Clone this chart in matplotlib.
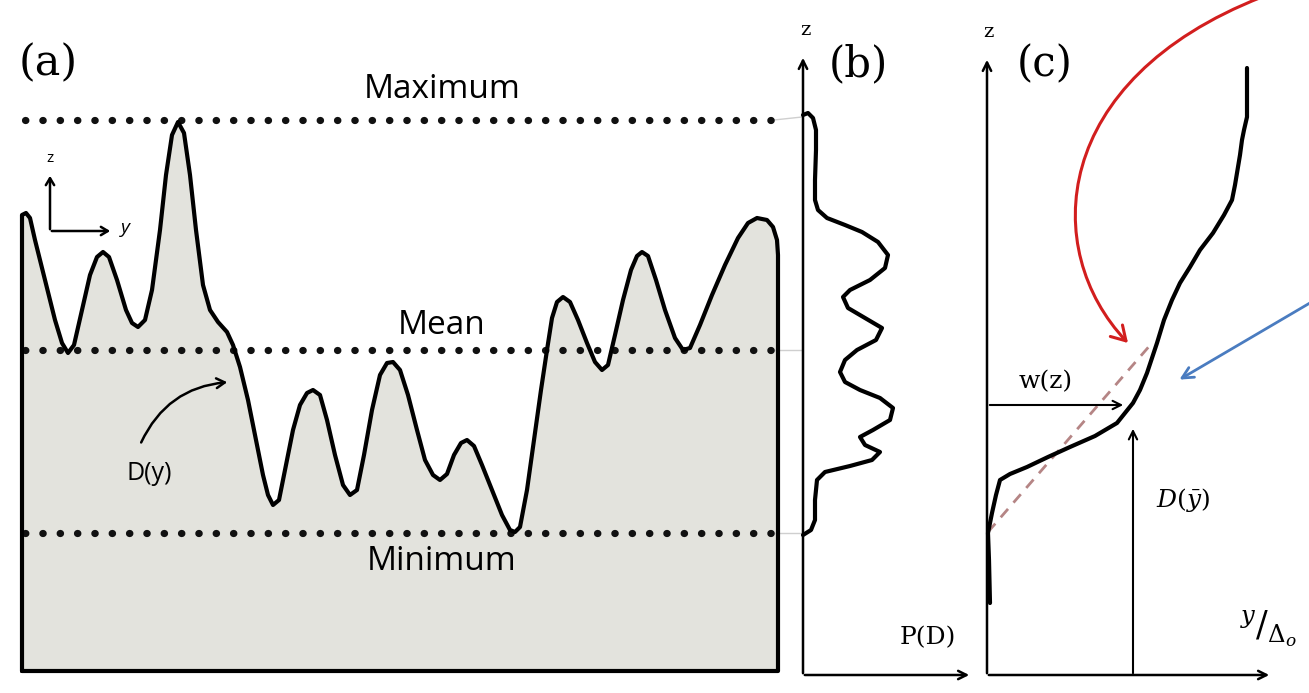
import matplotlib
matplotlib.use("Agg")
import matplotlib.pyplot as plt
from matplotlib.path import Path
from matplotlib.patches import FancyArrowPatch, Polygon

# ---------------- data (image pixel coordinates, y downward) ----------------
# panel (a): surface profile D(y)
profile_a_x = [22, 26, 30, 35, 45, 55, 62, 68, 74, 82, 90, 97, 103, 109, 117, 126, 132, 138, 145,
               152, 160, 166, 172, 178, 184, 190, 196, 203, 210, 218, 227, 233, 240, 248, 256, 263,
               268, 273, 279, 285, 293, 300, 307, 313, 320, 327, 335, 343, 350, 357, 364, 372, 380,
               387, 393, 400, 408, 417, 425, 433, 440, 447, 454, 461, 467, 474, 482, 492, 502, 510,
               515, 520, 527, 534, 541, 547, 552, 557, 563, 570, 578, 587, 595, 602, 608, 615, 623,
               631, 637, 642, 648, 656, 665, 675, 683, 690, 700, 712, 725, 738, 748, 757, 767, 773,
               777, 778]
profile_a_z = [215, 213, 218, 240, 280, 320, 343, 353, 345, 310, 275, 257, 252, 257, 280, 310, 323,
               327, 320, 290, 230, 175, 135, 122, 133, 175, 230, 285, 310, 322, 332, 345, 367, 400,
               440, 475, 495, 505, 500, 470, 430, 405, 393, 390, 395, 420, 455, 485, 495, 490, 455,
               410, 375, 363, 362, 370, 395, 430, 460, 475, 480, 474, 455, 443, 440, 446, 465, 490,
               515, 530, 532, 527, 490, 440, 390, 350, 318, 302, 297, 302, 320, 343, 362, 370, 365,
               335, 300, 270, 256, 252, 256, 280, 310, 338, 350, 348, 325, 295, 265, 238, 223, 218,
               220, 227, 240, 255]
box_left, box_right, box_bottom = 22, 778, 671
level_names = ["Maximum", "Mean", "Minimum"]
level_z = [120, 350, 533]
level_label_z = [90, 325, 562]

# panel (b): height PDF P(D)
pdf_x = [803, 808, 813, 816, 816, 815, 815, 818, 827, 845, 862, 878, 888, 885, 870, 850, 843, 848,
         865, 882, 876, 857, 845, 840, 845, 860, 880, 893, 890, 873, 860, 865, 880, 872, 850, 825,
         817, 815, 815, 811, 803]
pdf_z = [115, 113, 118, 130, 150, 180, 200, 210, 218, 225, 232, 242, 255, 268, 280, 290, 297, 308,
         318, 328, 340, 350, 360, 372, 382, 390, 398, 408, 420, 430, 437, 445, 452, 460, 466, 472,
         480, 500, 520, 530, 535]

# panel (c): porosity-like profile
prof_c_x = [1247, 1247, 1244, 1242, 1240, 1238, 1235, 1232, 1224, 1213, 1200, 1190, 1180, 1172,
            1164, 1157, 1152, 1147, 1140, 1133, 1125, 1117, 1095, 1070, 1048, 1027, 1010, 1000,
            996, 992, 988, 989, 990]
prof_c_z = [68, 117, 130, 140, 155, 167, 185, 200, 215, 233, 250, 267, 283, 300, 320, 343, 358,
            373, 390, 403, 413, 423, 436, 447, 457, 467, 474, 480, 495, 513, 533, 560, 603]
tangent_x = [988, 1152]
tangent_z = [532, 343]

# ---------------- figure ----------------
fig = plt.figure(figsize=(13.09, 6.93), dpi=100)
ax = fig.add_axes([0, 0, 1, 1])
ax.set_xlim(0, 1309)
ax.set_ylim(693, 0)
ax.axis("off")

SANS = ["Open Sans", "DejaVu Sans"]
SERIF = ["DejaVu Serif"]
fill_col = "#e3e3dd"
lw_curve = 3.0

# ---- panel (a) ----
poly_x = [box_left] + profile_a_x + [box_right, box_left]
poly_z = [box_bottom] + profile_a_z + [box_bottom, box_bottom]
ax.add_patch(Polygon(list(zip(poly_x, poly_z)), closed=True, facecolor=fill_col,
                     edgecolor="none", zorder=1))
ax.plot(poly_x, poly_z, color="black", lw=lw_curve, solid_joinstyle="round",
        solid_capstyle="round", zorder=3)

for name, z, lz in zip(level_names, level_z, level_label_z):
    ax.plot([box_left + 3, 776], [z, z], color="#111111", lw=5.2,
            linestyle=(0, (0.05, 2.35)), dash_capstyle="round", zorder=2)
    ax.plot([774, 802], [z, z - 3 if z < 300 else z], color="#cfcfcf", lw=1.0, zorder=1)
    ax.text(442, lz, name, fontsize=24, family=SANS, ha="center", va="center", zorder=4)

ax.text(48, 63, "(a)", fontsize=31, family=SERIF, ha="center", va="center")

# small z-y axes
ax.annotate("", xy=(50, 173), xytext=(50, 232),
            arrowprops=dict(arrowstyle="->,head_length=0.5,head_width=0.3", lw=1.8, color="black"))
ax.annotate("", xy=(113, 231), xytext=(49, 231),
            arrowprops=dict(arrowstyle="->,head_length=0.5,head_width=0.3", lw=1.8, color="black"))
ax.text(50, 158, "z", fontsize=11, family=SANS, ha="center", va="center")
ax.text(125, 228, "y", fontsize=14, family=SANS, style="italic", ha="center", va="center")

# D(y) label
ax.text(149, 473, "D(y)", fontsize=18, family=SANS, ha="center", va="center")
ax.annotate("", xy=(230, 382), xytext=(140, 445),
            arrowprops=dict(arrowstyle="->,head_length=0.6,head_width=0.35", lw=1.8,
                            color="black", connectionstyle="arc3,rad=-0.3"))

# ---- panel (b) ----
axis_lw = 1.8
ax.annotate("", xy=(803, 55), xytext=(803, 676),
            arrowprops=dict(arrowstyle="->,head_length=0.6,head_width=0.3", lw=axis_lw, color="black"))
ax.annotate("", xy=(972, 675), xytext=(802, 675),
            arrowprops=dict(arrowstyle="->,head_length=0.6,head_width=0.3", lw=axis_lw, color="black"))
ax.plot(pdf_x, pdf_z, color="black", lw=lw_curve, solid_joinstyle="round",
        solid_capstyle="round", zorder=3)
ax.text(805, 30, "z", fontsize=14, family=SERIF, ha="center", va="center")
ax.text(858, 64, "(b)", fontsize=30, family=SERIF, ha="center", va="center")
ax.text(928, 638, "P(D)", fontsize=18, family=SERIF, ha="center", va="center")

# ---- panel (c) ----
ax.annotate("", xy=(987, 57), xytext=(987, 676),
            arrowprops=dict(arrowstyle="->,head_length=0.6,head_width=0.3", lw=axis_lw, color="black"))
ax.annotate("", xy=(1272, 675), xytext=(986, 675),
            arrowprops=dict(arrowstyle="->,head_length=0.6,head_width=0.3", lw=axis_lw, color="black"))
ax.plot(tangent_x, tangent_z, color="#b58585", lw=2.0, linestyle=(0, (4, 3)), zorder=2)
ax.plot(prof_c_x, prof_c_z, color="black", lw=lw_curve, solid_joinstyle="round",
        solid_capstyle="round", zorder=3)
ax.text(988, 32, "z", fontsize=14, family=SERIF, ha="center", va="center")
ax.text(1045, 64, "(c)", fontsize=30, family=SERIF, ha="center", va="center")

# w(z) arrow
ax.annotate("", xy=(1126, 405), xytext=(987, 405),
            arrowprops=dict(arrowstyle="->,head_length=0.6,head_width=0.3", lw=1.5, color="black"))
ax.text(1046, 382, "w(z)", fontsize=18, family=SERIF, ha="center", va="center")
# D(y-bar) arrow
ax.annotate("", xy=(1133, 426), xytext=(1133, 676),
            arrowprops=dict(arrowstyle="->,head_length=0.6,head_width=0.3", lw=1.5, color="black"))
ax.text(1183, 500, r"$D(\bar{y})$", fontsize=18, ha="center", va="center",
        math_fontfamily="dejavuserif")
ax.text(1268, 628, r"$^{y}/_{\Delta_o}$", fontsize=25, ha="center", va="center",
        math_fontfamily="dejavuserif")

# red curved arrow
red_path = Path([(1262, -3), (1050, 80), (1040, 250), (1128, 343)],
                [Path.MOVETO, Path.CURVE4, Path.CURVE4, Path.CURVE4])
ax.add_patch(FancyArrowPatch(path=red_path, arrowstyle="->,head_length=10,head_width=6",
                             color="#d21e1e", lw=2.2, zorder=4))
# blue arrow
ax.annotate("", xy=(1177, 381), xytext=(1315, 300),
            arrowprops=dict(arrowstyle="->,head_length=0.8,head_width=0.4", lw=2.0, color="#4a7cc0"))

fig.savefig("out.png", dpi=100)
